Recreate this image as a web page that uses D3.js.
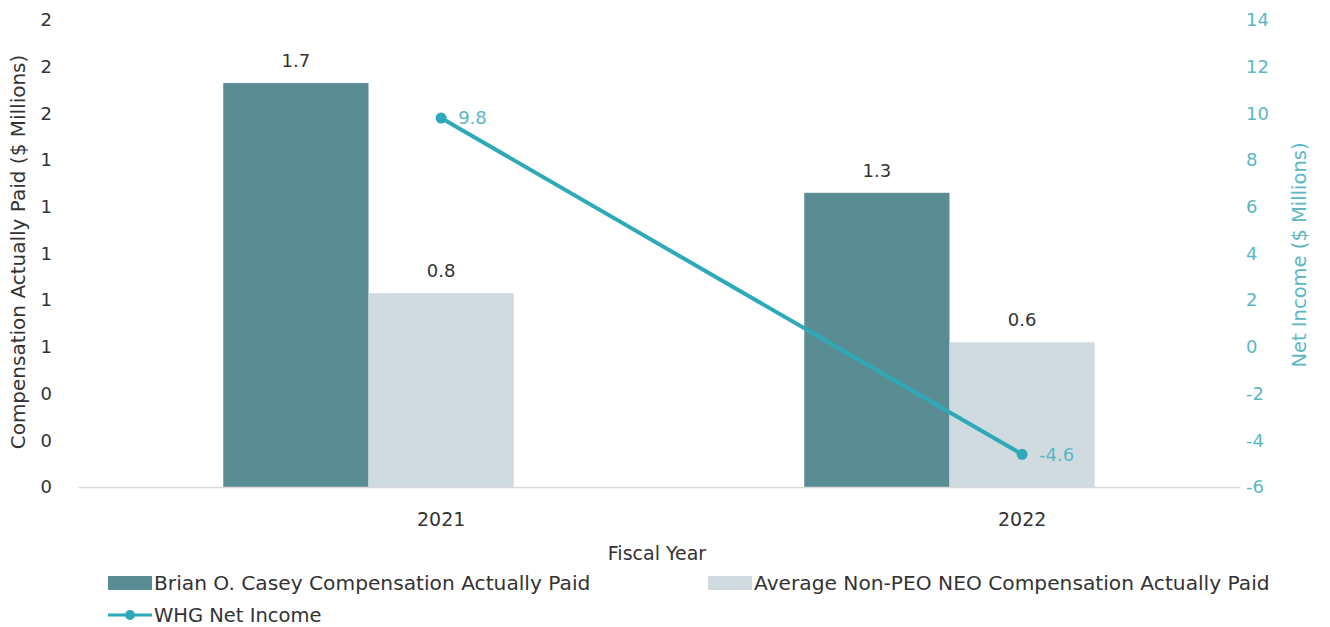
<!DOCTYPE html>
<html>
<head>
<meta charset="utf-8">
<script src="https://cdn.jsdelivr.net/npm/d3@7"></script>
<style>
  body { margin: 0; background: #fff; }
  svg text { font-family: "DejaVu Sans", "Liberation Sans", sans-serif; }
</style>
</head>
<body>
<div id="chart"></div>
<script>
// Donnees du graphique
const years = ["2021", "2022"];
const seriesNames = ["Brian O. Casey Compensation Actually Paid", "Average Non-PEO NEO Compensation Actually Paid"];
const peoPaid = [1.73, 1.26];
const neoPaid = [0.83, 0.62];
const netIncome = [9.8, -4.6];
const netIncomeName = "WHG Net Income";
const leftTicks = [0, 0.2, 0.4, 0.6, 0.8, 1.0, 1.2, 1.4, 1.6, 1.8, 2.0];
const rightTicks = [-6, -4, -2, 0, 2, 4, 6, 8, 10, 12, 14];

const width = 1330, height = 627;
const plot = {left: 78, right: 1240, top: 20, bottom: 487};
const colors = {peo: "#598d93", neo: "#cfdbdf", line: "#2ea9b8", lineText: "#5bb7c3", text: "#333"};

const svg = d3.select("#chart")
    .append("svg")
    .attr("width", width)
    .attr("height", height);

// Echelles
const x0 = d3.scaleBand()
    .domain(years)
    .range([plot.left, plot.right])
    .paddingInner(0.5)
    .paddingOuter(0.25);
const x1 = d3.scaleBand()
    .domain(["peo", "neo"])
    .range([0, x0.bandwidth()]);
const yL = d3.scaleLinear().domain([0, 2]).range([plot.bottom, plot.top]);
const yR = d3.scaleLinear().domain([-6, 14]).range([plot.bottom, plot.top]);

// le point de la courbe est au centre de la deuxieme barre
const lineX = d => x0(d) + x1("neo") + x1.bandwidth() / 2;
const fmt1 = v => v.toFixed(1);

const bars = years.map((y, i) => [
    {year: y, key: "peo", value: peoPaid[i]},
    {year: y, key: "neo", value: neoPaid[i]}
]).flat();

// Barres
svg.append("g").selectAll("rect")
    .data(bars)
    .join("rect")
    .attr("x", d => x0(d.year) + x1(d.key))
    .attr("y", d => yL(d.value))
    .attr("width", x1.bandwidth())
    .attr("height", d => yL(0) - yL(d.value))
    .attr("fill", d => colors[d.key]);

svg.append("g").selectAll("text")
    .data(bars)
    .join("text")
    .attr("x", d => x0(d.year) + x1(d.key) + x1.bandwidth() / 2)
    .attr("y", d => yL(d.value) - 16)
    .attr("text-anchor", "middle")
    .attr("font-size", 18)
    .attr("fill", colors.text)
    .text(d => fmt1(d.value));

// Axe X
const xAxis = svg.append("g")
    .attr("transform", `translate(0,${plot.bottom})`)
    .call(d3.axisBottom(x0).tickSize(0).tickSizeOuter(0).tickPadding(26));
xAxis.select(".domain").attr("stroke", "#d9d9d9").attr("stroke-width", 1.5);
xAxis.selectAll(".tick").attr("transform", d => `translate(${lineX(d)},0)`);
xAxis.selectAll(".tick text")
    .attr("font-size", 19)
    .attr("fill", colors.text)
    .style("font-family", "DejaVu Sans");

// Axe Y gauche
const yAxisL = svg.append("g")
    .attr("transform", `translate(${plot.left},0)`)
    .call(d3.axisLeft(yL).tickValues(leftTicks).tickFormat(d => d.toFixed(0)).tickSize(0).tickPadding(26));
yAxisL.select(".domain").remove();
yAxisL.selectAll(".tick text")
    .attr("font-size", 18)
    .attr("fill", colors.text)
    .style("font-family", "DejaVu Sans");

// Axe Y droit
const yAxisR = svg.append("g")
    .attr("transform", `translate(${plot.right},0)`)
    .call(d3.axisRight(yR).tickValues(rightTicks).tickFormat(d => String(d)).tickSize(0).tickPadding(6));
yAxisR.select(".domain").remove();
yAxisR.selectAll(".tick text")
    .attr("font-size", 18)
    .attr("fill", colors.lineText)
    .style("font-family", "DejaVu Sans");

// Courbe
const pts = years.map((y, i) => ({year: y, value: netIncome[i]}));
svg.append("path")
    .datum(pts)
    .attr("fill", "none")
    .attr("stroke", colors.line)
    .attr("stroke-width", 4)
    .attr("d", d3.line()
        .x(d => lineX(d.year))
        .y(d => yR(d.value)));
svg.append("g").selectAll("circle")
    .data(pts)
    .join("circle")
    .attr("cx", d => lineX(d.year))
    .attr("cy", d => yR(d.value))
    .attr("r", 5.5)
    .attr("fill", colors.line);
svg.append("g").selectAll("text")
    .data(pts)
    .join("text")
    .attr("x", d => lineX(d.year) + 17)
    .attr("y", d => yR(d.value))
    .attr("dy", "0.35em")
    .attr("font-size", 18)
    .attr("fill", colors.lineText)
    .text(d => fmt1(d.value));

// Titres des axes
svg.append("text")
    .attr("transform", `translate(25,252) rotate(-90)`)
    .attr("text-anchor", "middle")
    .attr("font-size", 20)
    .attr("fill", colors.text)
    .text("Compensation Actually Paid ($ Millions)");
svg.append("text")
    .attr("transform", `translate(1306,255) rotate(-90)`)
    .attr("text-anchor", "middle")
    .attr("font-size", 19.5)
    .attr("fill", colors.lineText)
    .text("Net Income ($ Millions)");
svg.append("text")
    .attr("x", 657)
    .attr("y", 560)
    .attr("text-anchor", "middle")
    .attr("font-size", 19)
    .attr("fill", colors.text)
    .text("Fiscal Year");

// Legende
const legend = svg.append("g");
const legendItems = [
    {x: 108, y: 583, color: colors.peo, label: seriesNames[0]},
    {x: 708, y: 583, color: colors.neo, label: seriesNames[1]}
];
legendItems.forEach(it => {
    legend.append("rect")
        .attr("x", it.x).attr("y", it.y - 7)
        .attr("width", 44).attr("height", 14)
        .attr("fill", it.color);
    legend.append("text")
        .attr("x", it.x + 46).attr("y", it.y)
        .attr("dy", "0.35em")
        .attr("font-size", 20.2)
        .attr("fill", colors.text)
        .text(it.label);
});
legend.append("line")
    .attr("x1", 108).attr("x2", 152)
    .attr("y1", 615).attr("y2", 615)
    .attr("stroke", colors.line).attr("stroke-width", 3);
legend.append("circle")
    .attr("cx", 130).attr("cy", 615).attr("r", 5)
    .attr("fill", colors.line);
legend.append("text")
    .attr("x", 154).attr("y", 615)
    .attr("dy", "0.35em")
    .attr("font-size", 19.5)
    .attr("fill", colors.text)
    .text(netIncomeName);
</script>
</body>
</html>
